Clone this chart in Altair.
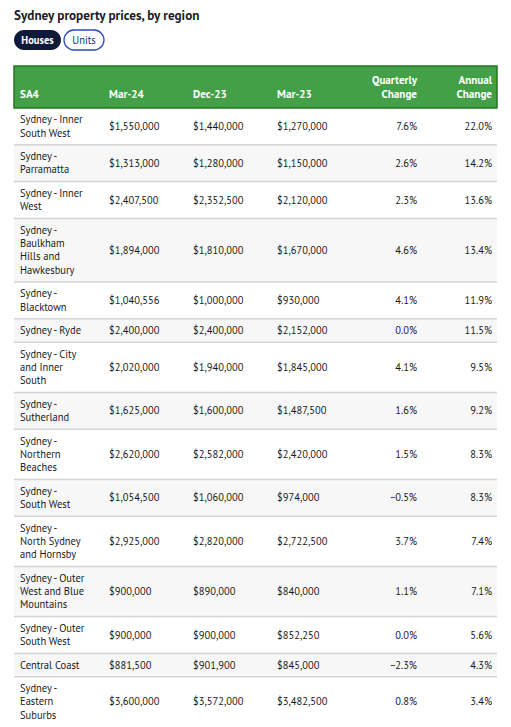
import altair as alt
import pandas as pd

# ---------------- data ----------------
regions = [
    ["Sydney - Inner", "South West"],
    ["Sydney -", "Parramatta"],
    ["Sydney - Inner", "West"],
    ["Sydney -", "Baulkham", "Hills and", "Hawkesbury"],
    ["Sydney -", "Blacktown"],
    ["Sydney - Ryde"],
    ["Sydney - City", "and Inner", "South"],
    ["Sydney -", "Sutherland"],
    ["Sydney -", "Northern", "Beaches"],
    ["Sydney -", "South West"],
    ["Sydney -", "North Sydney", "and Hornsby"],
    ["Sydney - Outer", "West and Blue", "Mountains"],
    ["Sydney - Outer", "South West"],
    ["Central Coast"],
    ["Sydney -", "Eastern", "Suburbs"],
]
mar24 = [1550000, 1313000, 2407500, 1894000, 1040556, 2400000, 2020000, 1625000,
         2620000, 1054500, 2925000, 900000, 900000, 881500, 3600000]
dec23 = [1440000, 1280000, 2352500, 1810000, 1000000, 2400000, 1940000, 1600000,
         2582000, 1060000, 2820000, 890000, 900000, 901900, 3572000]
mar23 = [1270000, 1150000, 2120000, 1670000, 930000, 2152000, 1845000, 1487500,
         2420000, 974000, 2722500, 840000, 852250, 845000, 3482500]
quarterly = [7.6, 2.6, 2.3, 4.6, 4.1, 0.0, 4.1, 1.6, 1.5, -0.5, 3.7, 1.1, 0.0, -2.3, 0.8]
annual = [22.0, 14.2, 13.6, 13.4, 11.9, 11.5, 9.5, 9.2, 8.3, 8.3, 7.4, 7.1, 5.6, 4.3, 3.4]

headers = [["SA4"], ["Mar-24"], ["Dec-23"], ["Mar-23"], ["Quarterly", "Change"], ["Annual", "Change"]]
title_text = "Sydney property prices, by region"
buttons = ["Houses", "Units"]

# ---------------- layout ----------------
W, HC = 495, 711
FONT = "PT Sans"
X = alt.Scale(domain=[8, 8 + W], range=[0, W])
Y = alt.Scale(domain=[8, 8 + HC], range=[0, HC])

TL, TR = 14, 497          # table left / right
HEAD_TOP, HEAD_BOT = 66, 108
LH, PAD = 13.4, 10
BODY_FS = 10.5

rows = []
top = HEAD_BOT
for i, lines in enumerate(regions):
    h = LH * len(lines) + PAD
    rows.append({
        "i": i, "top": top, "bot": top + h, "mid": top + h / 2,
        "lines": lines, "first": top + 15.3,
        "mar24": mar24[i], "dec23": dec23[i], "mar23": mar23[i],
        "q": quarterly[i] / 100, "a": annual[i] / 100,
        "fill": "#f7f7f7" if i % 2 == 1 else "#ffffff",
        "x0": TL, "x1": TR,
    })
    top += h
rdf = pd.DataFrame(rows)
rdf["vy"] = rdf["mid"] + 3.5

base = alt.Chart(rdf)

row_bg = base.mark_rect().encode(
    x=alt.X("x0:Q", scale=X, axis=None), x2="x1:Q",
    y=alt.Y("top:Q", scale=Y, axis=None), y2="bot:Q",
    color=alt.Color("fill:N", scale=None),
)
row_sep = base.mark_rule(color="#d4d4d4", strokeWidth=1.5).encode(
    x=alt.X("x0:Q", scale=X, axis=None), x2="x1:Q",
    y=alt.Y("bot:Q", scale=Y, axis=None),
)
txt = dict(font=FONT, fontSize=BODY_FS, color="#1a1a1a", baseline="alphabetic")
region_t = base.mark_text(align="left", lineHeight=LH, **txt).encode(
    x=alt.value(20 - 8), y=alt.Y("first:Q", scale=Y, axis=None), text="lines",
)
cols = []
for field, xpos in [("mar24", 109), ("dec23", 193), ("mar23", 277)]:
    cols.append(base.mark_text(align="left", **txt).encode(
        x=alt.value(xpos - 8), y=alt.Y("vy:Q", scale=Y, axis=None),
        text=alt.Text(f"{field}:Q", format="$,.0f")))
for field, xpos in [("q", 417), ("a", 492)]:
    cols.append(base.mark_text(align="right", **txt).encode(
        x=alt.value(xpos - 8), y=alt.Y("vy:Q", scale=Y, axis=None),
        text=alt.Text(f"{field}:Q", format=".1%")))

# header
hdf = pd.DataFrame([{"x0": TL, "x1": TR, "y0": HEAD_TOP, "y1": HEAD_BOT}])
head_rect = alt.Chart(hdf).mark_rect(fill="#43a047", stroke="#23781f", strokeWidth=1.5).encode(
    x=alt.X("x0:Q", scale=X, axis=None), x2="x1:Q",
    y=alt.Y("y0:Q", scale=Y, axis=None), y2="y1:Q",
)
HLH = 13.5
hx = [20, 109, 193, 277, 417, 492]
halign = ["left", "left", "left", "left", "right", "right"]
hrows = []
for lines, xx, al in zip(headers, hx, halign):
    hrows.append({"lines": lines, "x": xx, "y": 97.5 - (len(lines) - 1) * HLH, "al": al})
hdr = pd.DataFrame(hrows)
head_text = []
for al in ["left", "right"]:
    head_text.append(alt.Chart(hdr[hdr.al == al]).mark_text(
        align=al, font=FONT, fontSize=11.1, fontWeight="bold", color="white",
        baseline="alphabetic", lineHeight=HLH).encode(
        x=alt.X("x:Q", scale=X, axis=None), y=alt.Y("y:Q", scale=Y, axis=None), text="lines"))

# title + toggle buttons
tdf = pd.DataFrame([{"t": title_text, "x": 14, "y": 19.5}])
title = alt.Chart(tdf).mark_text(align="left", baseline="alphabetic", font=FONT, fontSize=13.2,
                                 fontWeight="bold", color="#1c1c2a").encode(
    x=alt.X("x:Q", scale=X, axis=None), y=alt.Y("y:Q", scale=Y, axis=None), text="t:N")

bdf = pd.DataFrame([
    {"label": buttons[0], "x0": 14, "x1": 61, "y0": 30, "y1": 50, "cx": 37.5, "cy": 43.5},
    {"label": buttons[1], "x0": 64, "x1": 104, "y0": 30, "y1": 50, "cx": 84, "cy": 43.5},
])
btn_on = alt.Chart(bdf.iloc[[0]]).mark_rect(fill="#0f1a3a", cornerRadius=10).encode(
    x=alt.X("x0:Q", scale=X, axis=None), x2="x1:Q",
    y=alt.Y("y0:Q", scale=Y, axis=None), y2="y1:Q")
btn_off = alt.Chart(bdf.iloc[[1]]).mark_rect(fill="white", stroke="#2a48b8", strokeWidth=1.3,
                                             cornerRadius=10).encode(
    x=alt.X("x0:Q", scale=X, axis=None), x2="x1:Q",
    y=alt.Y("y0:Q", scale=Y, axis=None), y2="y1:Q")
btn_on_t = alt.Chart(bdf.iloc[[0]]).mark_text(font=FONT, fontSize=10.5, fontWeight="bold",
                                              color="white", baseline="alphabetic").encode(
    x=alt.X("cx:Q", scale=X, axis=None), y=alt.Y("cy:Q", scale=Y, axis=None), text="label:N")
btn_off_t = alt.Chart(bdf.iloc[[1]]).mark_text(font=FONT, fontSize=10.5,
                                               color="#1a2f8f", baseline="alphabetic").encode(
    x=alt.X("cx:Q", scale=X, axis=None), y=alt.Y("cy:Q", scale=Y, axis=None), text="label:N")

chart = alt.layer(
    row_bg, row_sep, region_t, *cols, head_rect, *head_text,
    title, btn_on, btn_off, btn_on_t, btn_off_t,
).properties(
    width=W, height=HC, padding=0, autosize=alt.AutoSizeParams(type="none"),
).configure_view(stroke=None, clip=False)

chart.save("out.html", embed_options={"renderer": "svg", "actions": False})
